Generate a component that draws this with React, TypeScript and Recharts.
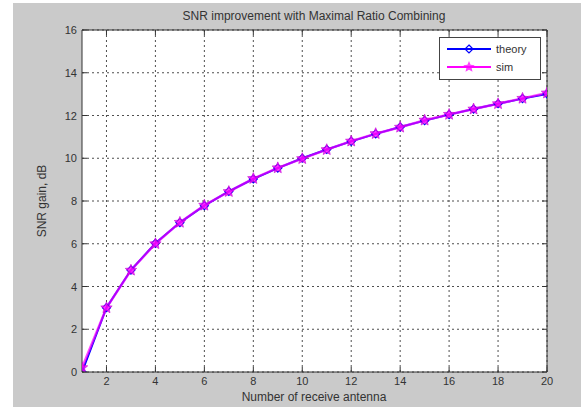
import { LineChart, Line, XAxis, YAxis, CartesianGrid, ReferenceLine } from 'recharts';

// number of receive antennas
const antennas = [1, 2, 3, 4, 5, 6, 7, 8, 9, 10, 11, 12, 13, 14, 15, 16, 17, 18, 19, 20];
// SNR gain in dB
const theoryGain = [0, 3.01, 4.77, 6.02, 6.99, 7.78, 8.45, 9.03, 9.54, 10.0, 10.41, 10.79, 11.14, 11.46, 11.76, 12.04, 12.3, 12.55, 12.79, 13.01];
const simGain = [0.2, 3.0, 4.76, 6.0, 7.0, 7.8, 8.44, 9.05, 9.55, 9.98, 10.4, 10.8, 11.15, 11.45, 11.78, 12.05, 12.3, 12.55, 12.8, 13.05];
const xTicks = [2, 4, 6, 8, 10, 12, 14, 16, 18, 20];
const yTicks = [0, 2, 4, 6, 8, 10, 12, 14, 16];

const data = antennas.map((n, i) => ({ n, theory: theoryGain[i], sim: simGain[i] }));

const FONT = '"Liberation Sans", Arial, sans-serif';
const BLUE = '#0000ff';
const MAGENTA = '#ff00ff';

const starPoints = (cx: number, cy: number, r: number) => {
  const pts: string[] = [];
  for (let k = 0; k < 10; k++) {
    const rr = k % 2 === 0 ? r : r * 0.45;
    const a = -Math.PI / 2 + (k * Math.PI) / 5;
    pts.push(`${cx + rr * Math.cos(a)},${cy + rr * Math.sin(a)}`);
  }
  return pts.join(' ');
};

const DiamondDot = (props: any) => {
  const { cx, cy, index } = props;
  if (cx == null || cy == null) return null;
  return (
    <polygon
      key={`d${index}`}
      points={`${cx},${cy - 4} ${cx + 4},${cy} ${cx},${cy + 4} ${cx - 4},${cy}`}
      fill="none"
      stroke={BLUE}
      strokeWidth={1.2}
    />
  );
};

const StarDot = (props: any) => {
  const { cx, cy, index } = props;
  if (cx == null || cy == null) return null;
  return <polygon key={`s${index}`} points={starPoints(cx, cy, 6)} fill={MAGENTA} fillOpacity={0.75} stroke="#c000d0" strokeWidth={0.6} />;
};

const XTick = (props: any) => {
  const { x, y, payload } = props;
  return (
    <g>
      <line x1={x} x2={x} y1={372} y2={367} stroke="#333" />
      <line x1={x} x2={x} y1={30} y2={35} stroke="#333" />
      <text x={x} y={y + 11} textAnchor="middle" fontSize={11} fill="#333" fontFamily={FONT}>
        {payload.value}
      </text>
    </g>
  );
};

const YTick = (props: any) => {
  const { x, y, payload } = props;
  return (
    <g>
      <line x1={82} x2={87} y1={y} y2={y} stroke="#333" />
      <line x1={547} x2={542} y1={y} y2={y} stroke="#333" />
      <text x={x - 3} y={y + 4} textAnchor="end" fontSize={11} fill="#333" fontFamily={FONT}>
        {payload.value}
      </text>
    </g>
  );
};

const LegendBox = () => (
  <svg width={102} height={43} style={{ display: 'block' }}>
    <rect x={0.5} y={0.5} width={101} height={42} fill="#fff" stroke="#444" />
    <line x1={8} x2={52} y1={12} y2={12} stroke={BLUE} strokeWidth={2} />
    <polygon points="30,8 34,12 30,16 26,12" fill="none" stroke={BLUE} strokeWidth={1.2} />
    <text x={57} y={16} fontSize={11} fill="#333" fontFamily={FONT}>theory</text>
    <line x1={8} x2={52} y1={30} y2={30} stroke={MAGENTA} strokeWidth={2} />
    <polygon points={starPoints(30, 30, 6)} fill={MAGENTA} fillOpacity={0.75} />
    <text x={57} y={34} fontSize={11} fill="#333" fontFamily={FONT}>sim</text>
  </svg>
);

export default function App() {
  return (
    <div style={{ position: 'absolute', left: 0, top: 0, width: 581, height: 407, background: '#fff', overflow: 'hidden' }}>
      <div style={{ position: 'absolute', left: 13, top: 3, width: 568, height: 404, background: '#cacaca' }} />
      <div style={{ position: 'absolute', left: 0, top: 0 }}>
        <LineChart width={581} height={407} data={data} margin={{ top: 30, right: 34, bottom: 5, left: 52 }}>
          <CartesianGrid stroke="#222" strokeDasharray="2 3" strokeWidth={0.8} horizontalValues={yTicks} verticalValues={xTicks} fill="#fff" fillOpacity={1} />
          <XAxis
            dataKey="n"
            type="number"
            domain={[1, 20]}
            ticks={xTicks}
            height={30}
            tickLine={false}
            tickSize={0}
            tick={<XTick />}
            axisLine={{ stroke: '#333' }}
            allowDataOverflow
          />
          <YAxis
            type="number"
            domain={[0, 16]}
            ticks={yTicks}
            width={30}
            tickLine={false}
            tickSize={0}
            tick={<YTick />}
            axisLine={{ stroke: '#333' }}
            allowDataOverflow
          />
          <ReferenceLine y={16} stroke="#333" />
          <ReferenceLine x={20} stroke="#333" />
          <Line dataKey="theory" stroke={BLUE} strokeWidth={2} dot={<DiamondDot />} isAnimationActive={false} />
          <Line dataKey="sim" stroke={MAGENTA} strokeOpacity={0.7} strokeWidth={2.5} dot={<StarDot />} isAnimationActive={false} />
        </LineChart>
      </div>
      <div style={{ position: 'absolute', left: 439, top: 37 }}>
        <LegendBox />
      </div>
      <svg width={581} height={407} style={{ position: 'absolute', left: 0, top: 0, pointerEvents: 'none' }}>
        <text x={314} y={20} textAnchor="middle" fontSize={12} fill="#333" fontFamily={FONT}>
          SNR improvement with Maximal Ratio Combining
        </text>
        <text x={314} y={401} textAnchor="middle" fontSize={12} fill="#333" fontFamily={FONT}>
          Number of receive antenna
        </text>
        <text x={46} y={201} transform="rotate(-90 46 201)" textAnchor="middle" fontSize={12} fill="#333" fontFamily={FONT}>
          SNR gain, dB
        </text>
      </svg>
    </div>
  );
}
